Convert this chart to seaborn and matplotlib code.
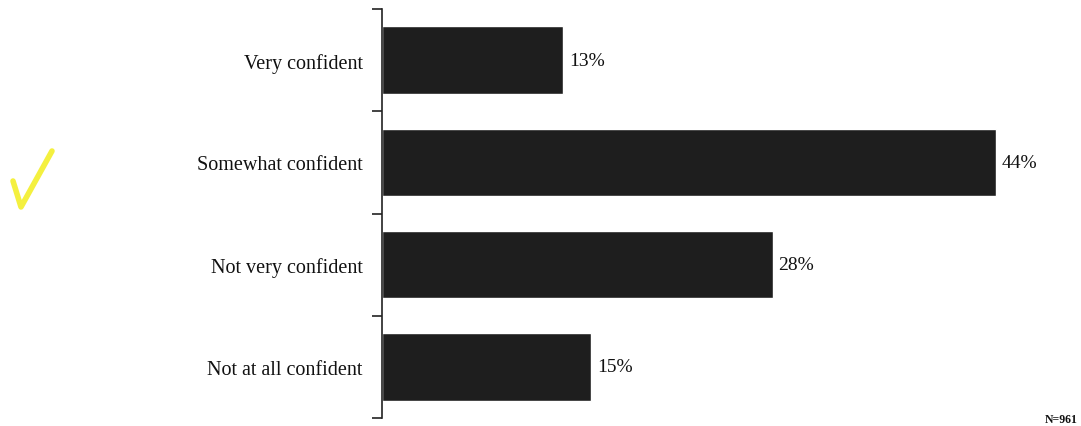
import matplotlib
matplotlib.use("Agg")
import matplotlib.pyplot as plt
from matplotlib.lines import Line2D
from matplotlib.ticker import FixedLocator
import seaborn as sns
import pandas as pd

# Survey responses: confidence level and share of respondents
categories = ["Very confident", "Somewhat confident", "Not very confident", "Not at all confident"]
percentages = [13, 44, 28, 15]
sample_note = "N=961"

sns.set_theme(style="white")
plt.rcParams["font.family"] = ["Liberation Serif", "DejaVu Serif"]

df = pd.DataFrame({"level": categories, "pct": percentages})

W, H = 1081, 427
fig = plt.figure(figsize=(W / 100, H / 100), dpi=100)
ax = fig.add_axes([382 / W, (H - 419) / H, 697.5 / W, 409 / H])

bar_color = "#1e1e1e"
sns.barplot(data=df, x="pct", y="level", orient="h", color=bar_color,
            saturation=1, width=0.66, ax=ax)

ax.set_xlim(0, 50)
ax.set_ylim(len(categories) - 0.5, -0.5)
ax.set_xlabel("")
ax.set_ylabel("")
ax.set_xticks([])

# Category labels without tick marks; short ticks at the boundaries between bars
ax.tick_params(axis="y", which="major", length=0, pad=14, labelsize=14.5,
               labelcolor="#111111")
ax.yaxis.set_minor_locator(FixedLocator([i - 0.5 for i in range(len(categories) + 1)]))
ax.tick_params(axis="y", which="minor", length=7, width=1.2, color="#222222",
               direction="out", left=True)

for side in ["top", "right", "bottom"]:
    ax.spines[side].set_visible(False)
ax.spines["left"].set_color("#222222")
ax.spines["left"].set_linewidth(1.2)

ax.bar_label(ax.containers[0], labels=[f"{v}%" for v in percentages],
             padding=4, fontsize=14, color="#111111")

fig.text(1078 / W, 1 / H, sample_note, ha="right", va="bottom",
         fontsize=8.5, fontweight="bold", color="#111111")

# Yellow highlighter check mark in the left margin
fig.add_artist(Line2D([13 / W, 21 / W, 52 / W],
                      [1 - 182 / H, 1 - 208 / H, 1 - 152 / H],
                      color="#f3ef2a", linewidth=4, solid_capstyle="round",
                      solid_joinstyle="round", alpha=0.9))

fig.savefig("out.png", dpi=100, facecolor="white")
